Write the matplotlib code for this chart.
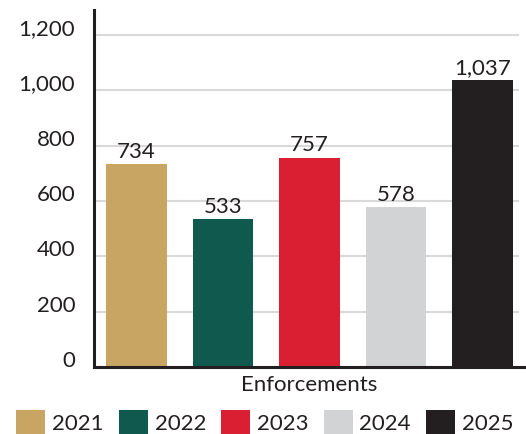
import matplotlib
matplotlib.use("Agg")
import matplotlib.pyplot as plt
from matplotlib.patches import Patch
from matplotlib.ticker import FuncFormatter

# Enforcement counts by year
years = ["2021", "2022", "2023", "2024", "2025"]
enforcements = [734, 533, 757, 578, 1037]
colors = ["#C8A563", "#10594F", "#DA1F32", "#D1D3D4", "#231F20"]
y_ticks = [0, 200, 400, 600, 800, 1000, 1200]
x_label = "Enforcements"

plt.rcParams["font.family"] = ["Lato", "DejaVu Sans"]
text_color = "#231F20"
fs = 16

fig = plt.figure(figsize=(5.26, 4.34), dpi=100)
ax = fig.add_axes([94 / 526, 1 - 367 / 434, 430 / 526, 357 / 434])

positions = list(range(len(years)))
bars = ax.bar(positions, enforcements, width=0.70, color=colors, zorder=3)

for x, v in zip(positions, enforcements):
    ax.annotate(f"{v:,}", (x, v), xytext=(0, 4.5), textcoords="offset points",
                ha="center", va="baseline", fontsize=fs, color=text_color)

ax.set_xlim(-0.491, 4.48)
ax.set_ylim(0, 1290)

ax.set_yticks(y_ticks)
ax.yaxis.set_major_formatter(FuncFormatter(lambda v, p: f"{int(v):,}"))
ax.tick_params(axis="y", length=0, pad=13.5, labelsize=fs, labelcolor=text_color)
for lab in ax.get_yticklabels():
    lab.set_verticalalignment("baseline")
ax.set_xticks([])

# light horizontal gridlines stopping just short of the right end
for t in y_ticks[1:]:
    ax.axhline(t, xmin=0, xmax=(518 - 94) / 430, color="#D9D9D9", lw=1.5, zorder=1)

for side in ("top", "right"):
    ax.spines[side].set_visible(False)
for side in ("left", "bottom"):
    ax.spines[side].set_color(text_color)
    ax.spines[side].set_linewidth(2.2)
    ax.spines[side].set_zorder(4)

ax.set_xlabel(x_label, fontsize=fs, color=text_color, labelpad=6)

handles = [Patch(facecolor=c, edgecolor="none") for c in colors]
fpx = fs * 100 / 72
fig.legend(handles, years, loc="center left", bbox_to_anchor=(16 / 526, 11.5 / 434),
           ncol=5, frameon=False, fontsize=fs, labelcolor=text_color,
           handlelength=29 / fpx, handleheight=29 / fpx, handletextpad=7 / fpx,
           columnspacing=15 / fpx, borderpad=0, borderaxespad=0)

fig.savefig("out.png", dpi=100)
